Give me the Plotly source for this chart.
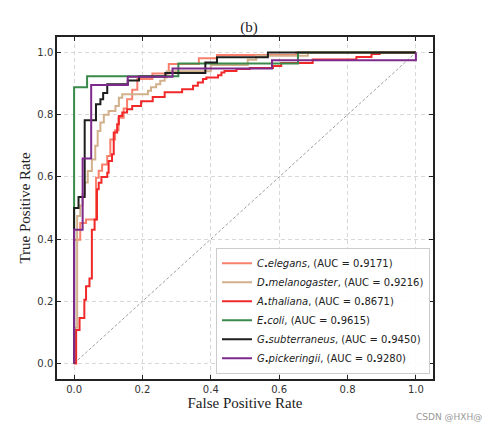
import plotly.graph_objects as go

# Series names and AUCs
species = ["C.elegans", "D.melanogaster", "A.thaliana", "E.coli", "G.subterraneus", "G.pickeringii"]
aucs = ["0.9171", "0.9216", "0.8671", "0.9615", "0.9450", "0.9280"]
colors = ["#F8806C", "#D2B08A", "#F0282A", "#3A8A4C", "#1E1E1E", "#7E2A8C"]

# Step points: level tpr[k] starts at fpr[k]
celegans_fpr = [0, 0, 0.018, 0.035, 0.064, 0.072, 0.082, 0.097, 0.106, 0.12, 0.13, 0.145, 0.155, 0.17, 0.185, 0.229, 0.277, 0.365, 0.418, 0.65, 1.0]
celegans_tpr = [0, 0.398, 0.452, 0.463, 0.597, 0.62, 0.64, 0.667, 0.72, 0.75, 0.79, 0.82, 0.85, 0.88, 0.915, 0.933, 0.963, 0.982, 0.992, 1.0, 1.0]

dmel_fpr = [0, 0, 0.009, 0.018, 0.025, 0.031, 0.04, 0.052, 0.062, 0.069, 0.077, 0.087, 0.101, 0.121, 0.131, 0.141, 0.216, 0.225, 0.24, 0.252, 0.265, 0.271, 0.4, 0.508, 0.533, 0.684, 1.0]
dmel_tpr = [0, 0.115, 0.474, 0.508, 0.545, 0.582, 0.619, 0.656, 0.70, 0.748, 0.775, 0.80, 0.812, 0.828, 0.855, 0.866, 0.877, 0.888, 0.898, 0.909, 0.92, 0.94, 0.96, 0.977, 0.99, 1.0, 1.0]

athal_fpr = [0, 0.006, 0.016, 0.03, 0.035, 0.045, 0.052, 0.06, 0.067, 0.072, 0.08, 0.097, 0.101, 0.111, 0.116, 0.126, 0.131, 0.141, 0.155, 0.17, 0.196, 0.23, 0.265, 0.316, 0.348, 0.362, 0.377, 0.387, 0.421, 0.431, 0.44, 0.475, 0.514, 0.582, 0.606, 0.698, 0.826, 0.87, 0.894, 1.0]
athal_tpr = [0, 0.108, 0.146, 0.205, 0.248, 0.273, 0.43, 0.463, 0.56, 0.581, 0.60, 0.613, 0.651, 0.673, 0.743, 0.769, 0.796, 0.807, 0.818, 0.828, 0.843, 0.857, 0.872, 0.882, 0.893, 0.904, 0.915, 0.92, 0.927, 0.936, 0.941, 0.947, 0.95, 0.957, 0.966, 0.978, 0.986, 0.995, 1.0, 1.0]

ecoli_fpr = [0, 0, 0.038, 0.305, 0.655, 1.0]
ecoli_tpr = [0, 0.888, 0.924, 0.965, 1.0, 1.0]

gsub_fpr = [0, 0, 0.013, 0.031, 0.064, 0.077, 0.085, 0.097, 0.157, 0.19, 0.267, 0.384, 0.418, 0.567, 1.0]
gsub_tpr = [0, 0.5, 0.535, 0.782, 0.834, 0.85, 0.87, 0.898, 0.91, 0.923, 0.934, 0.968, 0.985, 1.0, 1.0]

gpick_fpr = [0, 0, 0.025, 0.05, 0.157, 0.288, 0.579, 1.0, 1.0]
gpick_tpr = [0, 0.43, 0.659, 0.896, 0.922, 0.949, 0.975, 0.975, 1.0]

diag = [0, 1]
ticks = [0.0, 0.2, 0.4, 0.6, 0.8, 1.0]

series = [
    (celegans_fpr, celegans_tpr),
    (dmel_fpr, dmel_tpr),
    (athal_fpr, athal_tpr),
    (ecoli_fpr, ecoli_tpr),
    (gsub_fpr, gsub_tpr),
    (gpick_fpr, gpick_tpr),
]

fig = go.Figure()
fig.add_trace(go.Scatter(x=diag, y=diag, mode="lines", showlegend=False,
                         line=dict(color="#a0a0a0", width=1, dash="3px,2px"), hoverinfo="skip"))

for name, auc, col, (fx, ty) in zip(species, aucs, colors, series):
    g, sp = name.split(".")
    label = f"<i>{g}</i><b>.</b><i>{sp}</i>, (AUC = 0<b>.</b>{auc[2:]})"
    fig.add_trace(go.Scatter(x=fx, y=ty, mode="lines", name=label,
                             line=dict(color=col, width=2, shape="hv")))

axis_common = dict(
    range=[-0.05, 1.05], tickvals=ticks, tickformat=".1f",
    ticks="inside", ticklen=4, tickwidth=1, tickcolor="#222",
    showline=True, linecolor="#222", linewidth=1.5, mirror="ticks",
    showgrid=True, gridcolor="#d8d8d8", griddash="4px,3px", gridwidth=1,
    zeroline=False,
    tickfont=dict(family="DejaVu Sans", size=10, color="#333"),
)

fig.update_layout(
    width=489, height=423,
    margin=dict(l=49, r=64, t=29, b=52),
    paper_bgcolor="white", plot_bgcolor="white",
    title=dict(text="(b)", x=0.493, xanchor="center", y=0.955, yanchor="middle",
               font=dict(family="Liberation Serif", size=15, color="#222")),
    xaxis=dict(**axis_common, title=dict(text="False Positive Rate", standoff=3,
               font=dict(family="Liberation Serif", size=15, color="#222"))),
    yaxis=dict(**axis_common, title=dict(text="True Positive Rate", standoff=3,
               font=dict(family="Liberation Serif", size=15, color="#222"))),
    legend=dict(x=0.992, y=0.015, xanchor="right", yanchor="bottom",
                bgcolor="rgba(255,255,255,0.9)", bordercolor="#cccccc", borderwidth=1,
                font=dict(family="DejaVu Sans", size=10, color="#222"),
                tracegroupgap=0, itemwidth=30),
    showlegend=True,
)

fig.add_annotation(text="CSDN @HXH@", xref="paper", yref="paper", x=1.135, y=-0.111,
                   xanchor="right", yanchor="middle", showarrow=False,
                   font=dict(family="DejaVu Sans", size=9, color="#999"))

fig.write_html("out.html")
